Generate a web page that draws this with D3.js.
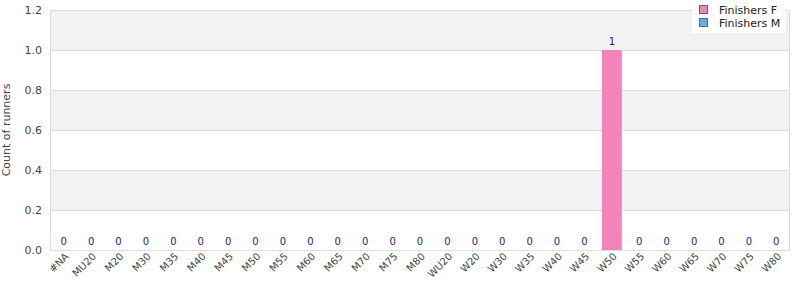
<!DOCTYPE html>
<html>
<head>
<meta charset="utf-8">
<script src="https://cdn.jsdelivr.net/npm/d3@7"></script>
<style>
  body { margin: 0; background: #fff; }
  svg { display: block; font-family: "DejaVu Sans", sans-serif; }
</style>
</head>
<body>
<svg id="chart" width="800" height="300"></svg>
<script>
"use strict";

const categories = ["#NA", "MU20", "M20", "M30", "M35", "M40", "M45", "M50", "M55", "M60", "M65", "M70", "M75", "M80",
  "WU20", "W20", "W30", "W35", "W40", "W45", "W50", "W55", "W60", "W65", "W70", "W75", "W80"];
const finishersF = [0, 0, 0, 0, 0, 0, 0, 0, 0, 0, 0, 0, 0, 0, 0, 0, 0, 0, 0, 0, 1, 0, 0, 0, 0, 0, 0];
const finishersM = [0, 0, 0, 0, 0, 0, 0, 0, 0, 0, 0, 0, 0, 0, 0, 0, 0, 0, 0, 0, 0, 0, 0, 0, 0, 0, 0];
const seriesNames = ["Finishers F", "Finishers M"];
const yTicks = [0, 0.2, 0.4, 0.6, 0.8, 1.0, 1.2];

const colors = { F: "#f383bb", M: "#6aaae8", label: "#1c1c8c", grid: "#dddddd", band: "#f2f2f2", text: "#444" };

const width = 800;
const height = 300;
const margin = { top: 10, right: 10, bottom: 50, left: 50 };

const svg = d3.select("#chart");

const x = d3.scaleBand()
  .domain(categories)
  .range([margin.left, width - margin.right])
  .paddingInner(0.27)
  .paddingOuter(0.135);

const y = d3.scaleLinear()
  .domain([0, 1.2])
  .range([height - margin.bottom, margin.top]);

// alternating background bands
svg.append("g")
  .selectAll("rect")
  .data(d3.pairs(yTicks))
  .join("rect")
  .attr("x", margin.left)
  .attr("width", width - margin.left - margin.right)
  .attr("y", (d) => y(d[1]))
  .attr("height", (d) => y(d[0]) - y(d[1]))
  .attr("fill", (d, i) => (i % 2 === 1 ? colors.band : "#fff"));

// grid lines
svg.append("g")
  .selectAll("line")
  .data(yTicks)
  .join("line")
  .attr("x1", margin.left)
  .attr("x2", width - margin.right)
  .attr("y1", (d) => y(d) + 0.5)
  .attr("y2", (d) => y(d) + 0.5)
  .attr("stroke", colors.grid);

// plot border
svg.append("rect")
  .attr("x", margin.left + 0.5)
  .attr("y", margin.top + 0.5)
  .attr("width", width - margin.left - margin.right - 1)
  .attr("height", height - margin.top - margin.bottom)
  .attr("fill", "none")
  .attr("stroke", colors.grid);

// stacked bars
const rows = categories.map((c, i) => ({ cat: c, F: finishersF[i], M: finishersM[i] }));
const stack = d3.stack().keys(["F", "M"])(rows);

svg.append("g")
  .selectAll("g")
  .data(stack)
  .join("g")
  .attr("fill", (s) => colors[s.key])
  .selectAll("rect")
  .data((s) => s)
  .join("rect")
  .attr("x", (d) => x(d.data.cat))
  .attr("width", x.bandwidth())
  .attr("y", (d) => y(d[1]))
  .attr("height", (d) => y(d[0]) - y(d[1]));

// value labels
svg.append("g")
  .attr("text-anchor", "middle")
  .style("font-size", "10px")
  .attr("fill", colors.label)
  .selectAll("text")
  .data(rows)
  .join("text")
  .attr("x", (d) => x(d.cat) + x.bandwidth() / 2)
  .attr("y", (d) => y(d.F + d.M) - 5)
  .text((d) => d.F + d.M);

// y axis
const yAxis = svg.append("g")
  .attr("transform", `translate(${margin.left},0)`)
  .call(d3.axisLeft(y).tickValues(yTicks).tickFormat(d3.format(".1f")).tickSize(0).tickPadding(8));
yAxis.select(".domain").remove();
yAxis.selectAll("text").style("font-size", "11px").attr("fill", colors.text).style("font-family", "DejaVu Sans, sans-serif");

svg.append("text")
  .attr("transform", `translate(10,${(margin.top + height - margin.bottom) / 2}) rotate(-90)`)
  .attr("text-anchor", "middle")
  .style("font-size", "11px")
  .attr("fill", colors.text)
  .text("Count of runners");

// x axis
const xAxis = svg.append("g")
  .attr("transform", `translate(0,${height - margin.bottom})`)
  .call(d3.axisBottom(x).tickSize(0).tickPadding(6));
xAxis.select(".domain").remove();
xAxis.selectAll("text")
  .style("font-size", "10px")
  .style("font-family", "DejaVu Sans, sans-serif")
  .attr("fill", colors.text)
  .attr("text-anchor", "end")
  .attr("dx", "-0.1em")
  .attr("dy", "0.3em")
  .attr("transform", "rotate(-45)");

// legend
const legend = svg.append("g").attr("transform", "translate(692,0)");
legend.append("rect")
  .attr("width", 93)
  .attr("height", 33)
  .attr("fill", "#fff");
const item = legend.selectAll("g")
  .data(seriesNames)
  .join("g")
  .attr("transform", (d, i) => `translate(7,${5 + i * 13})`);
item.append("rect")
  .attr("x", 0.5)
  .attr("y", 0.5)
  .attr("width", 8)
  .attr("height", 8)
  .attr("fill", (d, i) => (i === 0 ? colors.F : colors.M))
  .attr("stroke", "#666");
item.append("text")
  .attr("x", 20)
  .attr("y", 8)
  .attr("dy", "0.05em")
  .style("font-size", "11px")
  .attr("fill", "#222")
  .text((d) => d);
</script>
</body>
</html>
